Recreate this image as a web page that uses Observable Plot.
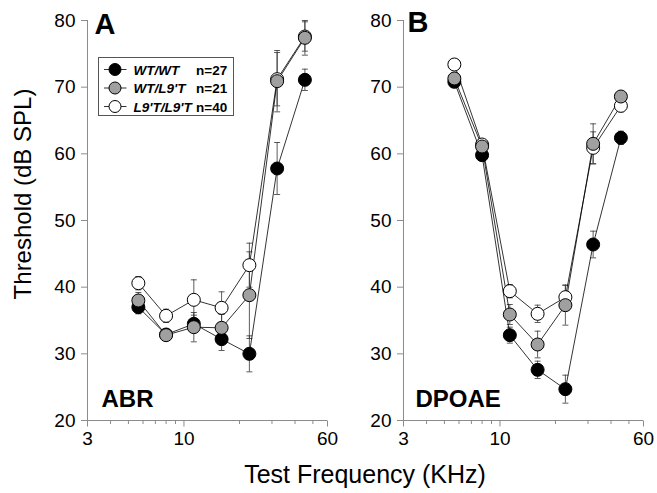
<!DOCTYPE html>
<html>
<head>
<meta charset="utf-8">
<script src="https://cdn.jsdelivr.net/npm/d3@7"></script>
<script src="https://cdn.jsdelivr.net/npm/@observablehq/plot@0.6"></script>
<style>
  html, body { margin: 0; padding: 0; background: white; }
  #wrap { position: relative; width: 657px; height: 493px; font-family: "Liberation Sans", Arial, Helvetica, sans-serif; }
  #wrap > div.panel { position: absolute; top: 0; }
  #overlay { position: absolute; left: 0; top: 0; pointer-events: none; }
</style>
</head>
<body>
<div id="wrap">
  <div class="panel" id="left" style="left:0px"></div>
  <div class="panel" id="right" style="left:340px"></div>
</div>
<script>
// ---- data ----
const freqs = [5.66, 8, 11.31, 16, 22.63, 32, 45.25];
const seriesNames = ["WT/WT", "WT/L9'T", "L9'T/L9'T"];
const seriesN = ["n=27", "n=21", "n=40"];
const yTicks = [20, 30, 40, 50, 60, 70, 80];
const xMajorTicks = [3, 10, 60];
const xMinorTicks = [4, 5, 6, 7, 8, 9, 20, 30, 40, 50];
const panelLetters = ["A", "B"];
const panelNames = ["ABR", "DPOAE"];

// ABR thresholds (dB SPL) and SEM
const abrWTWT = [37.0, 32.9, 34.5, 32.2, 30.0, 57.8, 71.1];
const abrWTWTErr = [1.0, 0.7, 1.3, 1.7, 2.7, 3.9, 1.6];
const abrWTL9 = [38.0, 32.8, 34.0, 33.9, 38.8, 70.9, 77.4];
const abrWTL9Err = [1.2, 0.8, 2.2, 2.0, 6.5, 4.6, 2.6];
const abrL9L9 = [40.6, 35.7, 38.1, 36.9, 43.3, 71.2, 77.6];
const abrL9L9Err = [1.0, 1.0, 3.0, 2.4, 3.3, 4.0, 2.2];

// DPOAE thresholds (dB SPL) and SEM
const dpWTWT = [70.8, 59.8, 32.8, 27.6, 24.7, 46.4, 62.4];
const dpWTWTErr = [0.8, 0.8, 1.2, 1.3, 2.1, 2.0, 1.0];
const dpWTL9 = [71.3, 61.1, 35.9, 31.4, 37.3, 61.5, 68.6];
const dpWTL9Err = [0.8, 0.7, 1.5, 2.0, 3.0, 3.0, 0.8];
const dpL9L9 = [73.4, 61.4, 39.4, 36.0, 38.5, 60.9, 67.2];
const dpL9L9Err = [0.6, 0.7, 1.0, 1.3, 1.8, 2.4, 0.9];

// ---- style ----
const fills = ["black", "#a0a0a0", "white"];
const drawOrder = [0, 2, 1];
const axisColor = "#8c8c8c";
const font = '"Liberation Sans", Arial, Helvetica, sans-serif';

const capSymbol = { draw(ctx) { ctx.moveTo(-3, 0); ctx.lineTo(3, 0); } };
const majorTick = { draw(ctx) { ctx.moveTo(0, 0); ctx.lineTo(0, 6); } };
const minorTick = { draw(ctx) { ctx.moveTo(0, 0); ctx.lineTo(0, 3.5); } };

function makePanel(values, errs, opts) {
  const rows = [];
  seriesNames.forEach((s, i) => freqs.forEach((f, j) => rows.push({ s, i, f, v: values[i][j], e: errs[i][j] })));
  const lo = d => d.v - d.e, hi = d => d.v + d.e;
  const marks = [
    Plot.ruleY([20], { stroke: axisColor }),
    Plot.ruleX([3], { stroke: axisColor }),
    Plot.axisY(yTicks, { tickSize: 6, tickPadding: 6, stroke: axisColor, fill: "black" }),
    Plot.dot(xMajorTicks, { x: d => d, frameAnchor: "bottom", symbol: majorTick, stroke: axisColor, strokeWidth: 1 }),
    Plot.dot(xMinorTicks, { x: d => d, frameAnchor: "bottom", symbol: minorTick, stroke: axisColor, strokeWidth: 1 }),
    Plot.text(xMajorTicks, { x: d => d, text: d => String(d), frameAnchor: "bottom", lineAnchor: "top", dy: 11, fontSize: 19, fill: "black" }),
    Plot.ruleX(rows, { x: "f", y1: lo, y2: hi, stroke: "#333", strokeWidth: 0.8 }),
    Plot.dot(rows, { x: "f", y: lo, symbol: capSymbol, stroke: "#333", strokeWidth: 0.8 }),
    Plot.dot(rows, { x: "f", y: hi, symbol: capSymbol, stroke: "#333", strokeWidth: 0.8 }),
    Plot.line(rows, { x: "f", y: "v", z: "s", stroke: "black", strokeWidth: 0.8 }),
    ...drawOrder.map(i => Plot.dot(rows.filter(d => d.i === i), { x: "f", y: "v", r: 6.5, fill: fills[i], stroke: "black", strokeWidth: 1 })),
    Plot.text([opts.letter], { text: d => d, frameAnchor: "top-left", lineAnchor: "top", textAnchor: "start", dx: opts.ldx, dy: opts.ldy, fontSize: 29, fontWeight: "bold", fill: "black" }),
    Plot.text([opts.name], { text: d => d, frameAnchor: "bottom-left", lineAnchor: "top", textAnchor: "start", dx: opts.ndx, dy: -31, fontSize: 24, fontWeight: "bold", fill: "black" })
  ];
  return Plot.plot({
    width: opts.width,
    height: 460,
    marginLeft: opts.marginLeft,
    marginRight: opts.marginRight,
    marginTop: 20,
    marginBottom: 40,
    style: { fontFamily: font, fontSize: "19px", background: "transparent", overflow: "visible" },
    x: { type: "log", domain: [3, 60], label: null, axis: null },
    y: { domain: [20, 80], label: null },
    marks
  });
}

document.getElementById("left").appendChild(makePanel(
  [abrWTWT, abrWTL9, abrL9L9], [abrWTWTErr, abrWTL9Err, abrL9L9Err],
  { width: 340, marginLeft: 87, marginRight: 13, letter: panelLetters[0], name: panelNames[0], ldx: 7, ldy: -7, ndx: 14 }));
document.getElementById("right").appendChild(makePanel(
  [dpWTWT, dpWTL9, dpL9L9], [dpWTWTErr, dpWTL9Err, dpL9L9Err],
  { width: 317, marginLeft: 63, marginRight: 14, letter: panelLetters[1], name: panelNames[1], ldx: 4, ldy: -9, ndx: 12 }));

// ---- overlay: legend and axis titles ----
const svg = d3.select("#wrap").append("svg").attr("id", "overlay")
  .attr("width", 657).attr("height", 493).style("font-family", font);

const lg = svg.append("g").attr("transform", "translate(98.5,57.5)");
lg.append("rect").attr("width", 135).attr("height", 58).attr("fill", "white").attr("stroke", "#555").attr("stroke-width", 1);
seriesNames.forEach((s, i) => {
  const y = 12 + i * 18.5;
  const g = lg.append("g").attr("transform", `translate(0,${y})`);
  g.append("line").attr("x1", 5.5).attr("x2", 28).attr("stroke", "black").attr("stroke-width", 0.8);
  g.append("circle").attr("cx", 16.5).attr("r", 6).attr("fill", fills[i]).attr("stroke", "black");
  g.append("text").attr("x", 35).attr("y", 5).attr("font-size", 13.5).attr("font-weight", "bold").attr("font-style", "italic").text(s);
  g.append("text").attr("x", 97.5).attr("y", 5).attr("font-size", 13.5).attr("font-weight", "bold").text(seriesN[i]);
});

svg.append("text").attr("transform", "translate(31,194) rotate(-90)").attr("text-anchor", "middle")
  .attr("font-size", 24).text("Threshold (dB SPL)");
svg.append("text").attr("x", 365).attr("y", 483).attr("text-anchor", "middle")
  .attr("font-size", 25).text("Test Frequency (KHz)");
</script>
</body>
</html>
